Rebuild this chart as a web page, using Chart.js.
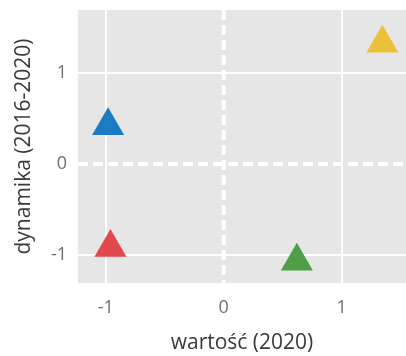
<!DOCTYPE html>
<html>
<head>
<meta charset="utf-8">
<script src="https://cdn.jsdelivr.net/npm/chart.js@4/dist/chart.umd.min.js"></script>
<style>
  html, body { margin: 0; padding: 0; background: #fff; }
</style>
</head>
<body>
<canvas id="chart" width="406" height="356"></canvas>
<script>
// data
const categories = ['A', 'B', 'C', 'D'];
const xValues = [-0.98, -0.96, 0.62, 1.345];
const yValues = [0.42, -0.92, -1.07, 1.33];
const pointColors = ['#1b7bc3', '#e2494f', '#4f9e48', '#ecc13a'];
const tickValues = [-1, 0, 1];

const TICK_FONT = { family: 'Open Sans', size: 18 };
const TITLE_FONT = { family: 'Open Sans', size: 21 };

// grey panel + dashed zero lines
const panelPlugin = {
  id: 'panel',
  beforeDraw(chart) {
    const { ctx, chartArea: a } = chart;
    ctx.save();
    ctx.fillStyle = '#e6e6e6';
    ctx.fillRect(a.left, a.top, a.right - a.left, a.bottom - a.top);
    ctx.restore();
  },
  beforeDatasetsDraw(chart) {
    const { ctx, chartArea: a, scales } = chart;
    const x0 = scales.x.getPixelForValue(0);
    const y0 = scales.y.getPixelForValue(0);
    ctx.save();
    ctx.strokeStyle = '#ffffff';
    ctx.lineWidth = 4;
    ctx.setLineDash([10, 5]);
    ctx.beginPath();
    ctx.moveTo(a.left, y0);
    ctx.lineTo(a.right, y0);
    ctx.moveTo(x0, a.top);
    ctx.lineTo(x0, a.bottom);
    ctx.stroke();
    ctx.restore();
  }
};

const gridColor = ctx => (ctx.tick && ctx.tick.value === 0) ? 'rgba(0,0,0,0)' : '#ffffff';

new Chart(document.getElementById('chart'), {
  type: 'scatter',
  data: {
    labels: categories,
    datasets: [{
      data: xValues.map((x, i) => ({ x: x, y: yValues[i] })),
      pointStyle: 'triangle',
      pointRadius: 18.5,
      pointHoverRadius: 18.5,
      pointBackgroundColor: pointColors,
      pointBorderWidth: 0,
      pointBorderColor: pointColors
    }]
  },
  options: {
    responsive: false,
    animation: false,
    layout: { autoPadding: false, padding: { top: 10, right: 0, left: 0, bottom: 0 } },
    plugins: { legend: { display: false }, tooltip: { enabled: false } },
    scales: {
      x: {
        min: -1.235,
        max: 1.545,
        afterBuildTicks: s => { s.ticks = tickValues.map(v => ({ value: v })); },
        afterFit: s => { s.height = 73; s.paddingLeft = 0; s.paddingRight = 0; },
        grid: { color: gridColor, lineWidth: 2, drawTicks: false },
        border: { display: false },
        ticks: { color: '#6e6e6e', font: TICK_FONT, padding: 14 },
        title: { display: true, text: 'wartość (2020)', color: '#3a3a3a', font: TITLE_FONT, padding: { bottom: 0 } }
      },
      y: {
        min: -1.31,
        max: 1.695,
        afterBuildTicks: s => { s.ticks = tickValues.map(v => ({ value: v })); },
        afterFit: s => { s.width = 78; s.paddingTop = 0; s.paddingBottom = 0; },
        grid: { color: gridColor, lineWidth: 2, drawTicks: false },
        border: { display: false },
        ticks: { color: '#6e6e6e', font: TICK_FONT, padding: 11 },
        title: { display: true, text: 'dynamika (2016-2020)', color: '#3a3a3a', font: TITLE_FONT, padding: { top: 11 } }
      }
    }
  },
  plugins: [panelPlugin]
});
</script>
</body>
</html>
